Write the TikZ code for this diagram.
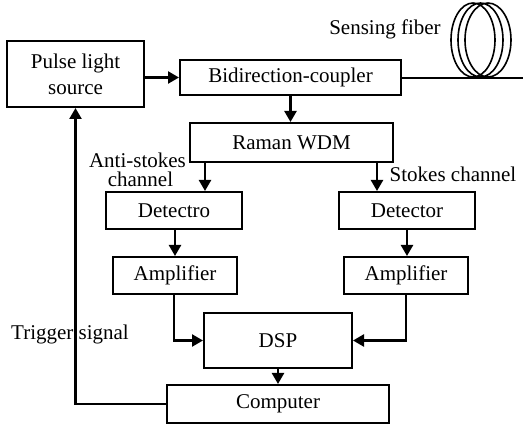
\documentclass[tikz,border=0pt]{standalone}
\usepackage{fontspec}
\setmainfont{Liberation Serif}
\usetikzlibrary{arrows.meta,calc}
\begin{document}
\begin{tikzpicture}[x=1pt,y=-1pt,
  box/.style={draw,line width=2pt,rectangle,inner sep=0pt,font=\fontsize{21}{24}\selectfont},
  arr/.style={line width=2.4pt,-{Triangle[length=11pt,width=12pt]}},
  lbl/.style={font=\fontsize{21}{18}\selectfont,inner sep=0pt,anchor=base}]
\useasboundingbox (0,0) rectangle (523,427);
\node[box,minimum width=137pt,minimum height=66pt,align=center,font=\fontsize{21}{26}\selectfont] (pls) at (75.5,74) {Pulse light\\source};
\node[box,minimum width=221pt,minimum height=35pt] (coup) at (290.5,77.5) {Bidirection-coupler};
\node[box,minimum width=203pt,minimum height=39pt] (wdm) at (291.5,142.5) {Raman WDM};
\node[box,minimum width=136pt,minimum height=37pt] (det1) at (174,210.5) {Detectro};
\node[box,minimum width=136pt,minimum height=37pt] (det2) at (407,210.5) {Detector};
\node[box,minimum width=124pt,minimum height=37pt] (amp1) at (175,275.5) {Amplifier};
\node[box,minimum width=124pt,minimum height=37pt] (amp2) at (406,275.5) {Amplifier};
\node[box,minimum width=148pt,minimum height=55pt] (dsp) at (278,340.5) {DSP};
\node[box,minimum width=222pt,minimum height=38pt] (comp) at (278,404) {Computer};
% labels
\node[lbl] (lsf) at (385,35) {Sensing fiber};
\node[lbl] (las1) at (137.5,168) {Anti-stokes};
\node[lbl] (las2) at (140.5,187) {channel};
\node[lbl] (lsc) at (453,182) {Stokes channel};
\node[lbl] (lts) at (70,340) {Trigger signal};
% fiber
\coordinate (fend) at (523,78);
\draw[line width=2pt] (coup.east |- fend) -- (fend);
\draw[line width=1.6pt] (473,40) ellipse [x radius=22, y radius=37];
\draw[line width=1.6pt] (480.5,40) ellipse [x radius=22.5, y radius=37];
\draw[line width=1.6pt] (488,40) ellipse [x radius=23, y radius=37];
% arrows
\draw[arr] (pls.east |- coup.west) -- (coup.west);
\draw[arr] (coup.south) -- (coup.south |- wdm.north);
\draw[arr] ([xshift=31pt]det1.north |- wdm.south) -- ([xshift=31pt]det1.north);
\draw[arr] ([xshift=-30pt]det2.north |- wdm.south) -- ([xshift=-30pt]det2.north);
\draw[arr] (amp1.north |- det1.south) -- (amp1.north);
\draw[arr] (det2.south) -- (det2.south |- amp2.north);
\draw[arr] ([xshift=-1pt]amp1.south) |- (dsp.west);
\draw[arr] (amp2.south) |- (dsp.east);
\draw[arr] (dsp.south) -- (comp.north);
\draw[arr] (comp.west) -| (pls.south);
\end{tikzpicture}
\end{document}
